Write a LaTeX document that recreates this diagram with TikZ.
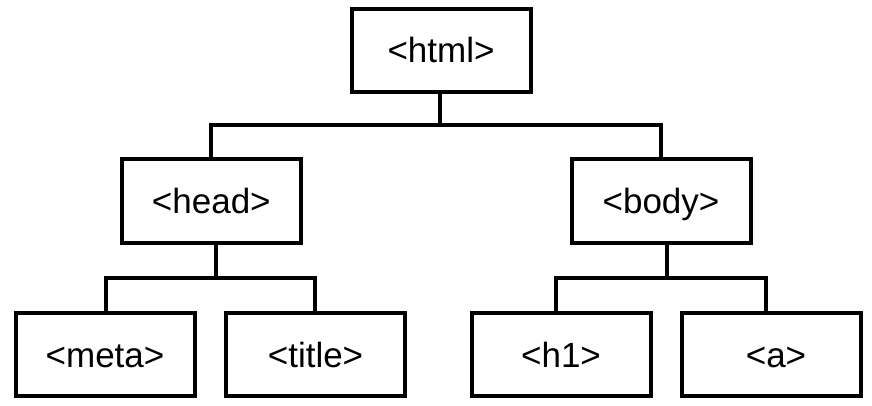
\documentclass[tikz,border=0pt]{standalone}
\usepackage{fontspec}
\setmainfont{Liberation Sans}
\usetikzlibrary{backgrounds}
\begin{document}
\begin{tikzpicture}[x=1pt,y=-1pt,
  tag/.style={draw=black,line width=4pt,fill=white,minimum width=179pt,minimum height=83pt,
    inner sep=0pt,text height=25pt,text depth=0pt,
    font=\fontsize{35}{38}\selectfont,text=black},
  conn/.style={draw=black,line width=4pt,line join=miter}]
\useasboundingbox (0,0) rectangle (872,406);

% tree nodes
\node[tag] (html)  at (441,50.5)  {<html>};
\node[tag] (head)  at (211.3,201) {<head>};
\node[tag] (body)  at (661,201)   {<body>};
\node[tag] (meta)  at (105,354.5) {<meta>};
\node[tag] (title) at (315.5,354.5) {<title>};
\node[tag] (h1)    at (561,354.5) {<h1>};
\node[tag,text width=179pt,align=center] (a) at (771,354.5) {\hspace*{10pt}<a>};

% junction points of the branches
\coordinate (j0) at (439.5,125.5);
\coordinate (j1) at (215.7,277.5);
\coordinate (j2) at (666.7,277.5);

\begin{scope}[on background layer]
  \fill[white] (0,0) rectangle (872,406);
  % html -> head, body
  \draw[conn] ([xshift=-1.5pt]html.center) -- (j0);
  \draw[conn] (head.center) |- (j0) -| (body.center);
  % head -> meta, title
  \draw[conn] ([xshift=4.4pt]head.center) -- (j1);
  \draw[conn] ([xshift=1pt]meta.center) |- (j1) -| ([xshift=-0.5pt]title.center);
  % body -> h1, a
  \draw[conn] ([xshift=5.7pt]body.center) -- (j2);
  \draw[conn] ([xshift=-5.3pt]h1.center) |- (j2) -| ([xshift=-5.3pt]a.center);
\end{scope}
\end{tikzpicture}
\end{document}
